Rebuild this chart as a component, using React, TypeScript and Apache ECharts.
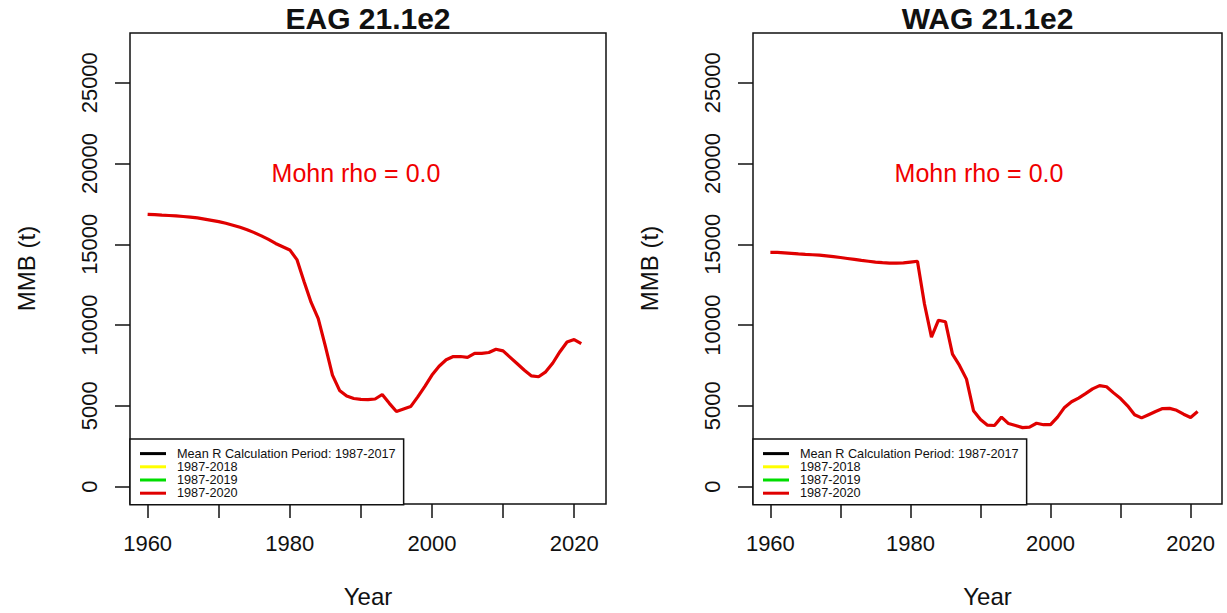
import React, { useEffect, useRef } from "react";
import * as echarts from "echarts";

// Model years (x axis)
const years = [
  1960, 1961, 1962, 1963, 1964, 1965, 1966, 1967, 1968, 1969,
  1970, 1971, 1972, 1973, 1974, 1975, 1976, 1977, 1978, 1979,
  1980, 1981, 1982, 1983, 1984, 1985, 1986, 1987, 1988, 1989,
  1990, 1991, 1992, 1993, 1994, 1995, 1996, 1997, 1998, 1999,
  2000, 2001, 2002, 2003, 2004, 2005, 2006, 2007, 2008, 2009,
  2010, 2011, 2012, 2013, 2014, 2015, 2016, 2017, 2018, 2019,
  2020, 2021,
];

// Mature male biomass (t), eastern Aleutian golden king crab
const eagMMB = [
  16850, 16830, 16800, 16780, 16760, 16720, 16680, 16630, 16560, 16480,
  16400, 16300, 16180, 16050, 15900, 15720, 15520, 15300, 15050, 14850,
  14650, 14050, 12700, 11400, 10400, 8700, 6900, 5950, 5600, 5450,
  5400, 5380, 5420, 5700, 5150, 4650, 4800, 4950, 5550, 6200,
  6900, 7450, 7850, 8050, 8050, 8000, 8250, 8250, 8300, 8500,
  8400, 8000, 7600, 7200, 6850, 6800, 7100, 7650, 8350, 8950,
  9100, 8850,
];

// Mature male biomass (t), western Aleutian golden king crab
const wagMMB = [
  14500, 14500, 14470, 14440, 14400, 14370, 14350, 14330, 14280, 14230,
  14180, 14120, 14060, 14000, 13950, 13900, 13860, 13830, 13830, 13850,
  13900, 13950, 11300, 9250, 10300, 10200, 8200, 7500, 6650, 4700,
  4150, 3800, 3780, 4300, 3900, 3780, 3650, 3680, 3920, 3830,
  3830, 4300, 4900, 5250, 5480, 5750, 6050, 6250, 6180, 5800,
  5450, 5000, 4450, 4250, 4450, 4650, 4830, 4840, 4720, 4480,
  4280, 4650,
];

// Axis ticks and labels
const xTicks = [1960, 1970, 1980, 1990, 2000, 2010, 2020];
const xLabels = [1960, 1980, 2000, 2020];
const yTicks = [0, 5000, 10000, 15000, 20000, 25000];

// Retrospective peels shown in the legend
const peelNames = [
  "Mean R Calculation Period: 1987-2017",
  "1987-2018",
  "1987-2019",
  "1987-2020",
];
const peelColors = ["#000000", "#ffff00", "#00dd00", "#e00000"];

const panelTitles = ["EAG 21.1e2", "WAG 21.1e2"];
const mohnRho = ["0.0", "0.0"];

const FONT = '"Liberation Sans", Arial, Helvetica, sans-serif';
const INK = "#111111";

export default function App() {
  const ref = useRef<HTMLDivElement>(null);

  useEffect(() => {
    if (!ref.current) return;
    const chart = echarts.init(ref.current, undefined, { renderer: "svg" });

    const panels = [
      { left: 130, width: 476, mmb: eagMMB },
      { left: 753, width: 469, mmb: wagMMB },
    ];
    const gridTop = 33;
    const gridHeight = 472;
    const plain = (v: number) => String(v);

    const grids = panels.map((p) => ({
      left: p.left,
      top: gridTop,
      width: p.width,
      height: gridHeight,
      show: true,
      borderColor: INK,
      borderWidth: 1.5,
      backgroundColor: "transparent",
    }));

    const xAxes = panels.map((_, i) => ({
      type: "value",
      gridIndex: i,
      position: "bottom",
      min: 1957.52,
      max: 2024.48,
      name: "Year",
      nameLocation: "middle",
      nameGap: 80,
      nameTextStyle: { fontFamily: FONT, fontSize: 24, color: INK },
      axisLine: { show: false, onZero: false },
      axisTick: {
        show: true,
        inside: false,
        length: 14,
        customValues: xTicks,
        lineStyle: { color: INK, width: 1.5 },
      },
      axisLabel: {
        show: true,
        customValues: xLabels,
        formatter: plain,
        margin: 28,
        fontFamily: FONT,
        fontSize: 22,
        color: INK,
      },
      splitLine: { show: false },
    }));

    const yAxes = panels.map((_, i) => ({
      type: "value",
      gridIndex: i,
      position: "left",
      min: -1080,
      max: 28080,
      name: "MMB (t)",
      nameLocation: "middle",
      nameGap: 92,
      nameTextStyle: { fontFamily: FONT, fontSize: 24, color: INK },
      axisLine: { show: false, onZero: false },
      axisTick: {
        show: true,
        inside: false,
        length: 15,
        customValues: yTicks,
        lineStyle: { color: INK, width: 1.5 },
      },
      axisLabel: {
        show: true,
        customValues: yTicks,
        formatter: plain,
        rotate: 90,
        margin: 30,
        fontFamily: FONT,
        fontSize: 22,
        color: INK,
      },
      splitLine: { show: false },
    }));

    const series: any[] = [];
    panels.forEach((p, i) => {
      peelNames.forEach((name, k) => {
        const isTerminal = k === peelNames.length - 1;
        series.push({
          type: "line",
          name,
          xAxisIndex: i,
          yAxisIndex: i,
          data: isTerminal ? years.map((y, j) => [y, p.mmb[j]]) : [],
          showSymbol: false,
          symbol: "none",
          lineStyle: { color: peelColors[k], width: 3.2 },
          itemStyle: { color: peelColors[k] },
          z: 2 + k,
        });
      });
    });

    const legends = panels.map((p) => ({
      orient: "vertical",
      left: p.left,
      top: 439,
      data: peelNames,
      icon: "rect",
      itemWidth: 26,
      itemHeight: 3,
      itemGap: 0,
      padding: [8, 8, 5, 10],
      borderColor: INK,
      borderWidth: 1.5,
      borderRadius: 0,
      backgroundColor: "#ffffff",
      selectedMode: false,
      textStyle: {
        fontFamily: FONT,
        fontSize: 12.7,
        color: INK,
        lineHeight: 13.2,
        padding: [0, 0, 0, 6],
      },
    }));

    const graphics: any[] = [];
    panels.forEach((p, i) => {
      const cx = p.left + p.width / 2;
      graphics.push({
        type: "text",
        x: cx,
        y: 18,
        style: {
          text: panelTitles[i],
          font: `bold 30px ${FONT}`,
          fill: INK,
          align: "center",
          verticalAlign: "middle",
        },
      });
      graphics.push({
        type: "text",
        x: p.left + 226,
        y: 173,
        style: {
          text: `Mohn rho = ${mohnRho[i]}`,
          font: `25px ${FONT}`,
          fill: "#f00000",
          align: "center",
          verticalAlign: "middle",
        },
      });
    });

    chart.setOption({
      animation: false,
      backgroundColor: "#ffffff",
      grid: grids,
      xAxis: xAxes,
      yAxis: yAxes,
      legend: legends,
      series,
      graphic: graphics,
    });

    return () => {
      chart.dispose();
    };
  }, []);

  return (
    <div
      ref={ref}
      style={{ position: "fixed", left: 0, top: 0, width: 1227, height: 613 }}
    />
  );
}
